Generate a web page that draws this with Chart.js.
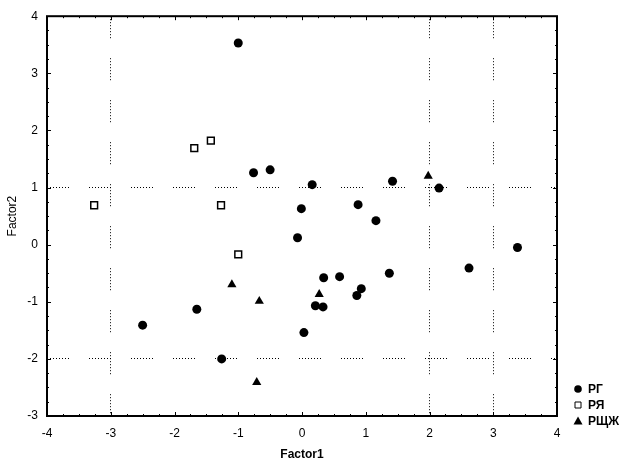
<!DOCTYPE html>
<html>
<head>
<meta charset="utf-8">
<script src="https://cdn.jsdelivr.net/npm/chart.js@4.4.0/dist/chart.umd.min.js"></script>
<style>
  html, body { margin: 0; padding: 0; background: #fff; }
</style>
</head>
<body>
<canvas id="factors" width="636" height="470"></canvas>
<script>
// group names
const groupNames = ['РГ', 'РЯ', 'РЩЖ'];

// РГ
const rgX = [-1.00, -0.76, -0.50, 0.16, -0.01, -0.07, 1.42, 2.15, 0.88, 1.16, -1.65, -2.50, -1.26, 0.03, 0.21, 0.33, 0.34, 0.59, 0.86, 0.93, 1.37, 2.62, 3.38];
const rgY = [3.53, 1.26, 1.31, 1.05, 0.63, 0.12, 1.11, 0.99, 0.70, 0.42, -1.13, -1.41, -2.00, -1.54, -1.07, -1.09, -0.58, -0.56, -0.89, -0.77, -0.50, -0.41, -0.05];

// РЯ
const ryaX = [-1.69, -1.43, -3.26, -1.27, -1.00];
const ryaY = [1.69, 1.82, 0.69, 0.69, -0.17];

// РЩЖ
const rshX = [1.98, -1.10, -0.67, -0.71, 0.27];
const rshY = [1.20, -0.70, -0.99, -2.41, -0.87];

// axis ranges and tick labels
const xTicks = [-4, -3, -2, -1, 0, 1, 2, 3, 4];
const yTicks = [-3, -2, -1, 0, 1, 2, 3, 4];

// dotted guide lines that show in the picture
const xGuides = [-3, 2, 3];
const yGuides = [1, -2];

const FONT = '"Liberation Sans", Arial, sans-serif';

function pts(xs, ys) {
  return xs.map((v, i) => ({ x: v, y: ys[i] }));
}

function guideColor(list) {
  return c => (c.tick && list.includes(c.tick.value)) ? '#000' : 'rgba(0,0,0,0)';
}

// box around the plot with small ticks pointing inward
const frame = {
  id: 'frame',
  beforeDatasetsDraw(chart) {
    const { ctx, chartArea: a, scales: { x, y } } = chart;
    ctx.save();
    ctx.strokeStyle = '#000';
    ctx.lineWidth = 1;
    ctx.beginPath();
    for (let v = xTicks[0]; v <= xTicks[xTicks.length - 1] + 1e-9; v += 0.25) {
      const px = Math.round(x.getPixelForValue(v)) + 0.5;
      const len = Math.abs(v - Math.round(v)) < 1e-9 ? 4 : 2;
      ctx.moveTo(px, a.bottom); ctx.lineTo(px, a.bottom - len);
      ctx.moveTo(px, a.top); ctx.lineTo(px, a.top + len);
    }
    for (let v = yTicks[0]; v <= yTicks[yTicks.length - 1] + 1e-9; v += 0.25) {
      const py = Math.round(y.getPixelForValue(v)) + 0.5;
      const len = Math.abs(v - Math.round(v)) < 1e-9 ? 4 : 2;
      ctx.moveTo(a.left, py); ctx.lineTo(a.left + len, py);
      ctx.moveTo(a.right, py); ctx.lineTo(a.right - len, py);
    }
    ctx.stroke();
    ctx.lineWidth = 2;
    ctx.strokeRect(a.left, a.top, a.right - a.left, a.bottom - a.top);
    ctx.restore();
  }
};

// legend in the lower right corner, outside the box
const sideLegend = {
  id: 'sideLegend',
  afterDraw(chart) {
    const { ctx, chartArea: a } = chart;
    ctx.save();
    ctx.font = 'bold 12px ' + FONT;
    ctx.textBaseline = 'middle';
    ctx.textAlign = 'left';
    chart.data.datasets.forEach((ds, i) => {
      const cx = a.right + 21;
      const cy = a.bottom - 27 + i * 16;
      ctx.fillStyle = '#000';
      ctx.strokeStyle = '#000';
      ctx.lineWidth = 1;
      ctx.beginPath();
      if (ds.pointStyle === 'circle') {
        ctx.arc(cx, cy, 3.8, 0, Math.PI * 2);
        ctx.fill();
      } else if (ds.pointStyle === 'rect') {
        ctx.fillStyle = '#fff';
        ctx.rect(cx - 3, cy - 3, 6, 6);
        ctx.fill();
        ctx.stroke();
      } else {
        ctx.moveTo(cx, cy - 4.5);
        ctx.lineTo(cx + 4.5, cy + 3.5);
        ctx.lineTo(cx - 4.5, cy + 3.5);
        ctx.closePath();
        ctx.fill();
      }
      ctx.fillStyle = '#000';
      ctx.fillText(ds.label, cx + 10, cy + 0.5);
    });
    ctx.restore();
  }
};

new Chart(document.getElementById('factors'), {
  type: 'scatter',
  data: {
    datasets: [
      {
        label: groupNames[0],
        data: pts(rgX, rgY),
        pointStyle: 'circle',
        pointRadius: 4.5,
        backgroundColor: '#000',
        borderColor: '#000',
        borderWidth: 0
      },
      {
        label: groupNames[1],
        data: pts(ryaX, ryaY),
        pointStyle: 'rect',
        pointRadius: 4.8,
        backgroundColor: '#fff',
        borderColor: '#000',
        borderWidth: 1.5
      },
      {
        label: groupNames[2],
        data: pts(rshX, rshY),
        pointStyle: 'triangle',
        pointRadius: 5.3,
        backgroundColor: '#000',
        borderColor: '#000',
        borderWidth: 0
      }
    ]
  },
  options: {
    responsive: false,
    animation: false,
    layout: { padding: { top: 13, right: 79, bottom: 0, left: 0 } },
    plugins: {
      legend: { display: false },
      tooltip: { enabled: false }
    },
    scales: {
      x: {
        type: 'linear',
        min: xTicks[0],
        max: xTicks[xTicks.length - 1],
        afterBuildTicks: s => { s.ticks = xTicks.map(v => ({ value: v })); },
        afterFit: s => { s.height = 54; },
        ticks: { color: '#000', padding: 10, font: { family: FONT, size: 12 } },
        grid: { drawTicks: false, color: guideColor(xGuides), lineWidth: 1 },
        border: { display: false, dash: [1, 2, 1, 2, 1, 2, 1, 2, 1, 2, 1, 2, 1, 2, 1, 20] },
        title: {
          display: true,
          text: 'Factor1',
          color: '#000',
          font: { family: FONT, size: 12, weight: 'bold' },
          padding: { top: 0, bottom: 8 }
        }
      },
      y: {
        type: 'linear',
        min: yTicks[0],
        max: yTicks[yTicks.length - 1],
        afterBuildTicks: s => { s.ticks = yTicks.map(v => ({ value: v })); },
        afterFit: s => { s.width = 47; },
        ticks: { color: '#000', padding: 9, font: { family: FONT, size: 12 } },
        grid: { drawTicks: false, color: guideColor(yGuides), lineWidth: 1 },
        border: { display: false, dash: [1, 2, 1, 2, 1, 2, 1, 2, 1, 2, 1, 2, 1, 2, 1, 20] },
        title: {
          display: true,
          text: 'Factor2',
          color: '#000',
          font: { family: FONT, size: 12 },
          padding: { top: 5, bottom: 0 }
        }
      }
    }
  },
  plugins: [frame, sideLegend]
});
</script>
</body>
</html>
